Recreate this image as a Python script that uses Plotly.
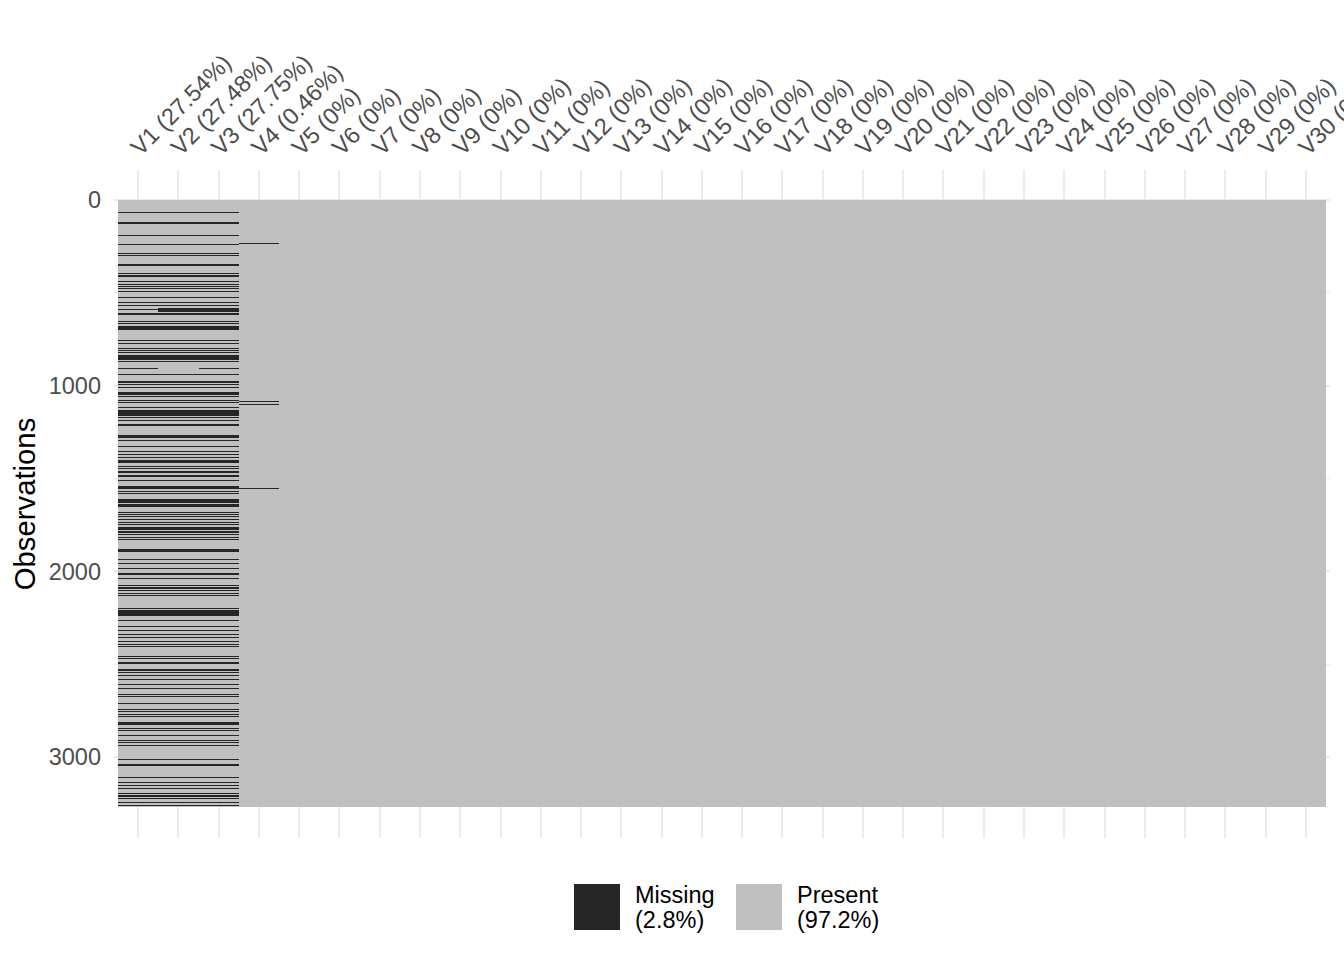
import numpy as np
import plotly.graph_objects as go

# ---------------- data ----------------
N_ROWS = 3268
col_labels = ["V1 (27.54%)", "V2 (27.48%)", "V3 (27.75%)", "V4 (0.46%)", "V5 (0%)",
              "V6 (0%)", "V7 (0%)", "V8 (0%)", "V9 (0%)", "V10 (0%)",
              "V11 (0%)", "V12 (0%)", "V13 (0%)", "V14 (0%)", "V15 (0%)",
              "V16 (0%)", "V17 (0%)", "V18 (0%)", "V19 (0%)", "V20 (0%)",
              "V21 (0%)", "V22 (0%)", "V23 (0%)", "V24 (0%)", "V25 (0%)",
              "V26 (0%)", "V27 (0%)", "V28 (0%)", "V29 (0%)", "V30 (0%)"]
y_tick_vals = [0, 1000, 2000, 3000]
y_tick_text = ["0", "1000", "2000", "3000"]
legend_labels = [["Missing", "(2.8%)"], ["Present", "(97.2%)"]]

# rows missing in V1, V2 and V3 together (start row, run length)
common_start = [65, 119, 189, 237, 286, 297, 345, 394, 404, 437, 453, 464, 474, 490, 523, 550,
                566, 587, 609, 652, 663, 679, 754, 770, 797, 808, 819, 835, 867, 937, 975, 991,
                1007, 1034, 1056, 1077, 1088, 1115, 1131, 1169, 1185, 1206, 1266, 1293, 1325,
                1352, 1368, 1384, 1400, 1433, 1443, 1460, 1481, 1508, 1540, 1567, 1578, 1610,
                1637, 1680, 1691, 1702, 1718, 1734, 1745, 1761, 1783, 1799, 1815, 1826, 1879,
                1933, 1955, 1982, 2009, 2036, 2073, 2084, 2100, 2116, 2127, 2197, 2208, 2262,
                2294, 2316, 2337, 2353, 2375, 2391, 2402, 2456, 2466, 2488, 2525, 2542, 2558,
                2579, 2606, 2628, 2660, 2671, 2709, 2741, 2752, 2768, 2779, 2811, 2843, 2854,
                2881, 2908, 2919, 2935, 3010, 3037, 3107, 3134, 3150, 3166, 3193, 3204, 3220,
                3242, 3258]
common_len = [4, 11, 4, 5, 4, 4, 11, 4, 11, 4, 4, 4, 5, 5, 4, 4,
              4, 5, 11, 4, 4, 22, 5, 5, 5, 4, 4, 27, 5, 5, 11, 5,
              5, 16, 4, 5, 4, 4, 32, 4, 4, 11, 16, 4, 4,
              4, 4, 5, 16, 4, 5, 11, 11, 4, 16, 5, 4, 22,
              16, 5, 4, 4, 4, 4, 4, 16, 11, 4, 4, 4, 16,
              5, 4, 4, 11, 4, 5, 11, 5, 5, 4, 4, 32, 4,
              4, 4, 4, 5, 4, 4, 4, 4, 5, 11, 11, 4, 4,
              5, 5, 4, 4, 4, 4, 4, 4, 4, 4, 16, 5, 4,
              4, 4, 4, 4, 4, 11, 4, 4, 4, 5, 4, 11, 4,
              4, 4]
# rows missing only in V1 and V3
v13_start = [905]
v13_len = [4]
# rows missing only in V2 and V3
v23_start = [582, 592]
v23_len = [5, 11]
# rows missing in V4
v4_start = [232, 1083, 1099, 1551]
v4_len = [4, 4, 4, 3]

N_COLS = len(col_labels)
MISSING_COLOR = "#262626"
PRESENT_COLOR = "#C0C0C0"
GRID_COLOR = "#EBEBEB"
FONT = "Liberation Sans, Arial, Helvetica, sans-serif"

# ---------------- build missingness matrix ----------------
miss = np.zeros((N_ROWS, N_COLS), dtype=bool)
for s, l in zip(common_start, common_len):
    miss[s:s + l, 0:3] = True
for s, l in zip(v13_start, v13_len):
    miss[s:s + l, [0, 2]] = True
for s, l in zip(v23_start, v23_len):
    miss[s:s + l, 1:3] = True
for s, l in zip(v4_start, v4_len):
    miss[s:s + l, 3] = True

bar_y, bar_w, bar_base, bar_len = [], [], [], []
for j in range(N_COLS):
    col = miss[:, j].astype(int)
    d = np.diff(np.concatenate([[0], col, [0]]))
    starts = np.where(d == 1)[0]
    ends = np.where(d == -1)[0]
    for s, e in zip(starts, ends):
        bar_y.append((s + e) / 2.0)
        bar_w.append(float(e - s))
        bar_base.append(j + 0.5)
        bar_len.append(1.0)

cols = list(range(1, N_COLS + 1))

fig = go.Figure()
fig.add_trace(go.Bar(
    x=cols, y=[N_ROWS] * N_COLS, base=[0] * N_COLS, width=1,
    marker=dict(color=PRESENT_COLOR, line=dict(width=0)),
    showlegend=False, hoverinfo="skip", name="Present"))
fig.add_trace(go.Bar(
    orientation="h", x=bar_len, y=bar_y, width=bar_w, base=bar_base,
    marker=dict(color=MISSING_COLOR, line=dict(width=0)),
    showlegend=False, hoverinfo="skip", name="Missing"))

# ---------------- layout ----------------
W, H = 1344, 960
ML, MR, MT, MB = 114, 14, 170, 122
plot_h = H - MT - MB
data_top_px, data_bot_px = 200, 807
rows_per_px = N_ROWS / (data_bot_px - data_top_px)
y_top = -(data_top_px - MT) * rows_per_px
y_bot = y_top + plot_h * rows_per_px

fig.update_layout(
    width=W, height=H, template="none",
    margin=dict(l=ML, r=MR, t=MT, b=MB, pad=0),
    paper_bgcolor="white", plot_bgcolor="white",
    barmode="overlay", bargap=0, bargroupgap=0, showlegend=False,
    font=dict(family=FONT),
)
fig.update_xaxes(
    range=[0.4, N_COLS + 0.6], side="top",
    tickmode="array", tickvals=cols, ticktext=col_labels, tickangle=-45,
    tickfont=dict(size=23.5, color="#4D4D4D", family=FONT),
    showgrid=True, gridcolor=GRID_COLOR, gridwidth=1.8,
    zeroline=False, showline=False, ticks="", automargin=False,
    ticklabelstandoff=4, ticklabelshift=-6, ticklabeloverflow="allow",
)
fig.update_yaxes(
    range=[y_bot, y_top],
    tickmode="array", tickvals=y_tick_vals, ticktext=y_tick_text,
    tickfont=dict(size=23.5, color="#4D4D4D", family=FONT),
    showgrid=True, gridcolor=GRID_COLOR, gridwidth=1.8,
    minor=dict(tickvals=[500, 1500, 2500], showgrid=True, gridcolor=GRID_COLOR, gridwidth=0.9),
    zeroline=False, showline=False, ticks="", automargin=False,
    ticklabelstandoff=12,
    title=dict(text="Observations", font=dict(size=29.3, color="black", family=FONT), standoff=4),
)

# ---------------- legend (drawn manually) ----------------
def px_to_paper_x(px):
    return (px - ML) / (W - ML - MR)

def px_to_paper_y(py):
    return (H - MB - py) / plot_h

key_x = [574, 736]
colors = [MISSING_COLOR, PRESENT_COLOR]
for kx, c, labels in zip(key_x, colors, legend_labels):
    fig.add_shape(type="rect", xref="paper", yref="paper",
                  x0=px_to_paper_x(kx), x1=px_to_paper_x(kx + 46),
                  y0=px_to_paper_y(930), y1=px_to_paper_y(884),
                  fillcolor=c, line=dict(width=0), layer="above")
    for line_txt, cy in zip(labels, [895, 920]):
        fig.add_annotation(text=line_txt, xref="paper", yref="paper",
                           x=px_to_paper_x(kx + 59), y=px_to_paper_y(cy),
                           xanchor="left", yanchor="middle", showarrow=False,
                           font=dict(size=23.5, color="black", family=FONT))

fig.write_html("out.html")
